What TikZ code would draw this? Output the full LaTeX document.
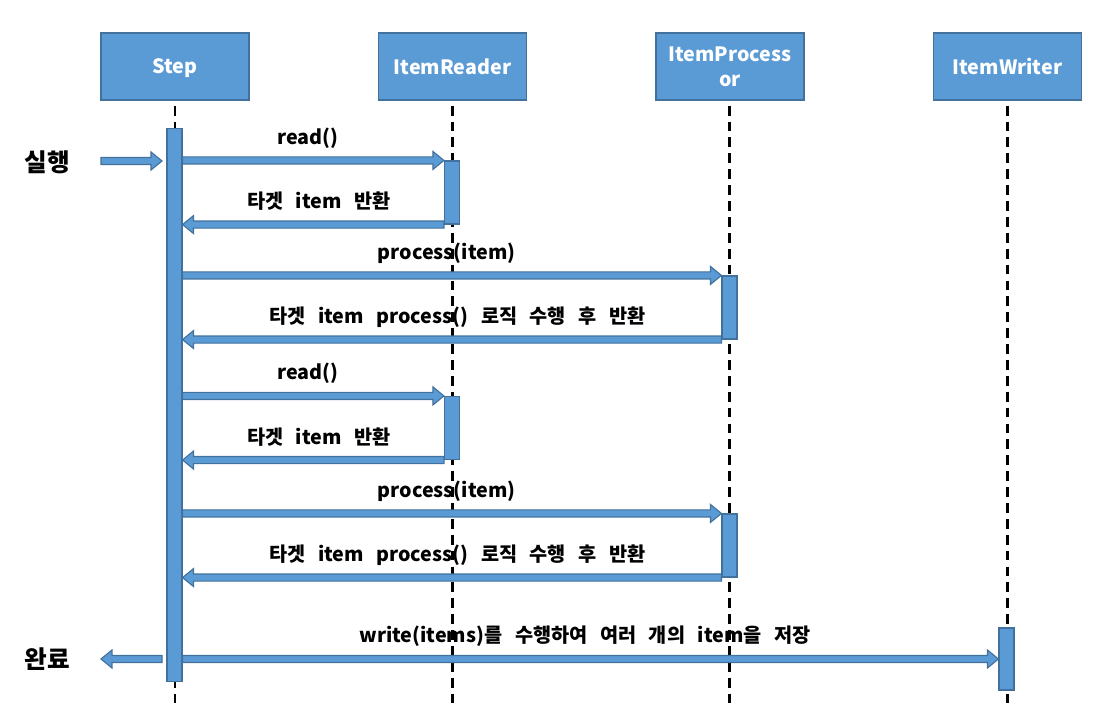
\documentclass[tikz,border=0pt]{standalone}
\usepackage{fontspec}
\setmainfont{Noto Sans CJK KR}[WordSpace=2.8]
\usetikzlibrary{positioning, calc}
\definecolor{barF}{RGB}{91,155,213}
\definecolor{barD}{RGB}{65,113,156}
\tikzset{
  head/.style={rectangle, draw=barD, fill=barF, line width=1pt, minimum width=3.7cm, minimum height=1.675cm, inner sep=1pt, text depth=0pt, text=white, align=center, font=\bfseries\fontsize{14}{17.8}\selectfont},
  bar/.style={rectangle, draw=barD, fill=barF, line width=0.8pt, minimum width=0.375cm, inner sep=0pt},
  life/.style={line width=2.1pt, dash pattern=on 7pt off 4.3pt},
  side/.style={font=\bfseries\fontsize{17.5}{19}\selectfont},
  lbl/.style={midway, anchor=base, yshift=8.9pt, text=black, font=\bfseries\fontsize{14}{16}\selectfont},
  msg/.style={draw=barD, fill=barF, line width=0.8pt, to path={
    let \p1=(\tikztostart), \p2=(\tikztotarget), \n1={ifthenelse(\x2>\x1,\x2-7.8pt,\x2+7.8pt)} in
    (\x1,{\y1+2.5pt}) -- ({\n1},{\y1+2.5pt}) \tikztonodes
    -- ({\n1},{\y1+6.4pt}) -- (\x2,\y1) -- ({\n1},{\y1-6.4pt})
    -- ({\n1},{\y1-2.5pt}) -- (\x1,{\y1-2.5pt}) -- cycle}}
}

\begin{document}
\begin{tikzpicture}[x=0.025cm, y=-0.025cm]
  \useasboundingbox (0,0) rectangle (1101,722);
  \node[head] (step) at (175,66.5) {Step};
  \node[head, right=3.2cm of step] (reader) {ItemReader};
  \node[head, right=3.2cm of reader] (proc) {ItemProcess\\or};
  \node[head, right=3.2cm of proc] (writer) {ItemWriter};

  % lifelines
  \coordinate (bottom) at (0,705);
  \foreach \n in {step,reader,proc,writer}
    \draw[life] ($(\n.south)+(0,5)$) -- (\n.south |- bottom);

  % activation bars
  \node[bar, minimum height=13.8cm] (sb) at (174.5,405) {};
  \node[bar, minimum height=1.575cm] (rd1) at (452,192.5) {};
  \node[bar, minimum height=1.575cm] (rd2) at (452,428) {};
  \node[bar, minimum height=1.575cm] (pr1) at (729.5,307.5) {};
  \node[bar, minimum height=1.575cm] (pr2) at (729.5,545.5) {};
  \node[bar, minimum height=1.55cm] (wr) at (1006.5,659) {};

  \node[side] (run) at (47,162) {실행};
  \node[side] (done) at (47,659) {완료};
  \coordinate (entry) at (101,161);
  \coordinate (exit) at (101,659);
  \coordinate (entryend) at (162,161);
  \coordinate (exitstart) at (162,659);

  % messages
  \draw[msg] (entry) to (entryend);
  \draw[msg] (sb.east |- rd1.north) to node[lbl]{read()} (rd1.north west);
  \draw[msg] (rd1.south west) to node[lbl]{타겟 item 반환} (sb.east |- rd1.south);
  \draw[msg] (sb.east |- pr1.north) to node[lbl]{process(item)} (pr1.north west);
  \draw[msg] (pr1.south west) to node[lbl]{타겟 item process() 로직 수행 후 반환} (sb.east |- pr1.south);
  \draw[msg] (sb.east |- rd2.north) to node[lbl]{read()} (rd2.north west);
  \draw[msg] (rd2.south west) to node[lbl]{타겟 item 반환} (sb.east |- rd2.south);
  \draw[msg] (sb.east |- pr2.north) to node[lbl]{process(item)} (pr2.north west);
  \draw[msg] (pr2.south west) to node[lbl]{타겟 item process() 로직 수행 후 반환} (sb.east |- pr2.south);
  \draw[msg] (sb.east |- wr.west) to node[lbl]{write(items)를 수행하여 여러 개의 item을 저장} (wr.west);
  \draw[msg] (exitstart) to (exit);
\end{tikzpicture}
\end{document}
